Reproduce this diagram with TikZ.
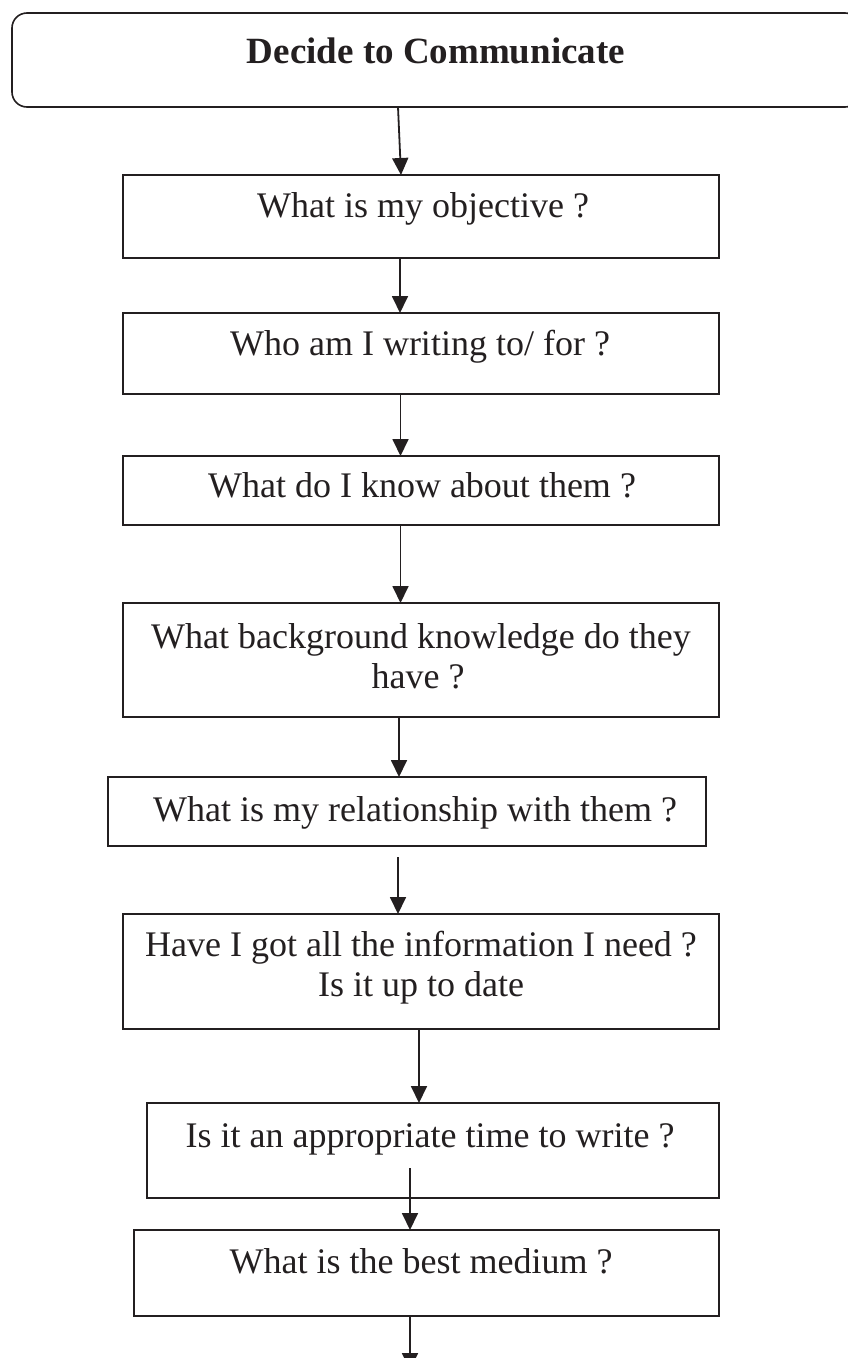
\documentclass[tikz,border=0pt]{standalone}
\usepackage{fontspec}
\setmainfont{Liberation Serif}
\usetikzlibrary{arrows.meta}
\definecolor{ink}{HTML}{231F20}
\tikzset{
  box/.style={draw=ink, line width=1.6pt, inner sep=0pt, outer sep=0pt, rectangle},
  txt/.style={anchor=base, inner sep=0pt, text=ink, font=\fontsize{36}{40}\selectfont},
  ttl/.style={anchor=base, inner sep=0pt, text=ink, font=\bfseries\fontsize{37}{44}\selectfont},
  arr/.style={draw=ink, line width=1.8pt, -{Triangle[length=17pt,width=16pt]}}
}
\begin{document}
\begin{tikzpicture}[x=1pt, y=-1pt]
\useasboundingbox (0,0) rectangle (847,1358);

% boxes
\node[box, rounded corners=15pt, minimum width=848pt, minimum height=94pt] (top) at (436,60) {};
\node[box, minimum width=596pt, minimum height=83pt]  (obj)  at (421,216.5) {};
\node[box, minimum width=596pt, minimum height=81pt]  (who)  at (421,353.5) {};
\node[box, minimum width=596pt, minimum height=69pt]  (know) at (421,490.5) {};
\node[box, minimum width=596pt, minimum height=114pt] (bg)   at (421,660) {};
\node[box, minimum width=598pt, minimum height=69pt]  (rel)  at (407,811.5) {};
\node[box, minimum width=596pt, minimum height=115pt] (have) at (421,971.5) {};
\node[box, minimum width=572pt, minimum height=95pt]  (appr) at (433,1150.5) {};
\node[box, minimum width=585pt, minimum height=86pt]  (med)  at (426.5,1273) {};

% labels
\node[ttl] (topt)  at (436,63)   {Decide to Communicate};
\node[txt] (objt)  at (423,217)  {What is my objective ?};
\node[txt] (whot)  at (420,355)  {Who am I writing to/ for ?};
\node[txt] (knowt) at (422,497)  {What do I know about them ?};
\node[txt] (bgt1)  at (421,648)  {What background knowledge do they};
\node[txt] (bgt2)  at (418,688)  {have ?};
\node[txt] (relt)  at (415,821)  {What is my relationship with them ?};
\node[txt] (havet1) at (421,956) {Have I got all the information I need ?};
\node[txt] (havet2) at (421,996) {Is it up to date};
\node[txt] (apprt) at (430,1147) {Is it an appropriate time to write ?};
\node[txt] (medt)  at (421,1273) {What is the best medium ?};

% connectors
\coordinate (relgap) at ([xshift=-9pt,yshift=-11pt]rel.south);
\coordinate (apprin) at ([xshift=-23pt,yshift=30pt]appr.south);
\coordinate (exit) at (410,1370);

\draw[arr] ([xshift=-38pt]top.south) -- ([xshift=-20pt]obj.north);
\draw[arr] ([xshift=-21pt]obj.south) -- ([xshift=-21pt]who.north);
\draw[arr] ([xshift=-20.5pt]who.south) -- ([xshift=-20.5pt]know.north);
\draw[arr] ([xshift=-20.5pt]know.south) -- ([xshift=-20.5pt]bg.north);
\draw[arr] ([xshift=-22pt]bg.south) -- ([xshift=-8pt]rel.north);
\draw[arr] (relgap) -- ([xshift=-23pt]have.north);
\draw[arr] ([xshift=-2pt]have.south) -- ([xshift=-14pt]appr.north);
\draw[arr] (apprin) -- ([xshift=-16.5pt]med.north);
\draw[arr] ([xshift=-16.5pt]med.south) -- (exit);
\end{tikzpicture}
\end{document}
